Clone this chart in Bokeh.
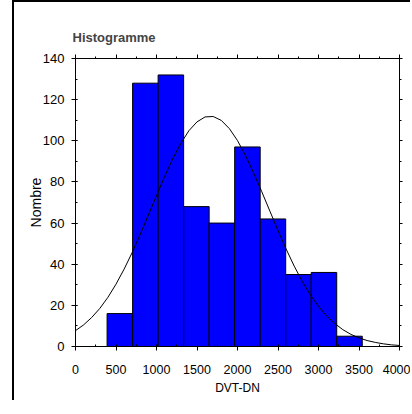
from bokeh.plotting import figure
from bokeh.models import (LinearAxis, Range1d, SingleIntervalTicker, ColumnDataSource,
                          CustomLabelingPolicy)
from bokeh.embed import file_html
from bokeh.resources import INLINE

# Histogram bins (DVT-DN) and counts
bin_left = [390, 705, 1020, 1335, 1650, 1965, 2280, 2595, 2910, 3225]
bin_right = [705, 1020, 1335, 1650, 1965, 2280, 2595, 2910, 3225, 3540]
counts = [16, 128, 132, 68, 60, 97, 62, 35, 36, 5]

# Fitted normal curve
curve_x = [0, 100, 200, 300, 400, 500, 600, 700, 800, 900, 1000,
           1100, 1200, 1300, 1400, 1500, 1600, 1700, 1800, 1900, 2000,
           2100, 2200, 2300, 2400, 2500, 2600, 2700, 2800, 2900, 3000,
           3100, 3200, 3300, 3400, 3500, 3600, 3700, 3800, 3900, 4000]
curve_y = [7.7, 10.5, 14.1, 18.5, 23.9, 30.3, 37.6, 45.7, 54.6, 63.9, 73.3,
           82.6, 91.2, 98.7, 104.9, 109.2, 111.6, 111.8, 109.9, 105.9, 100.1,
           92.8, 84.3, 75.2, 65.8, 56.4, 47.4, 39.1, 31.6, 25.1, 19.5,
           14.9, 11.2, 8.2, 5.9, 4.2, 2.9, 2.0, 1.3, 0.8, 0.5]

title_text = "Histogramme"
x_label = "DVT-DN"
y_label = "Nombre"

FONT = "Liberation Sans"

p = figure(width=398, height=400, output_backend="svg", toolbar_location=None,
           x_range=Range1d(0, 4000), y_range=Range1d(0, 140),
           min_border_left=61, min_border_right=13, min_border_top=56,
           min_border_bottom=56, x_axis_location=None, y_axis_location=None)
p.margin = (0, 0, 0, 12)
p.styles = {"border-left": "2px solid black", "border-top": "2px solid black"}
p.grid.visible = False
p.outline_line_color = None
p.background_fill_color = "white"
p.border_fill_color = "white"

src = ColumnDataSource(dict(left=bin_left, right=bin_right, top=counts))
p.quad(left="left", right="right", bottom=0, top="top", source=src,
       fill_color="#0000FF", line_color="black", line_width=1)
p.line(curve_x, curve_y, line_color="black", line_width=1)

no_labels = CustomLabelingPolicy(code="""
for (const i of Array.from(indices)) { indices.unset(i) }
return indices
""")


def style(ax, labels=True):
    ax.axis_line_color = "black"
    ax.major_tick_line_color = "black"
    ax.minor_tick_line_color = "black"
    ax.major_label_text_font = FONT
    ax.major_label_text_font_size = "13px" if labels else "1px"
    ax.major_label_text_color = "black"
    ax.axis_label_text_font = FONT
    ax.axis_label_text_font_style = "normal"
    ax.axis_label_text_color = "black"
    if not labels:
        ax.major_label_policy = no_labels


xb = LinearAxis(ticker=SingleIntervalTicker(interval=500, num_minor_ticks=2),
                axis_label=x_label)
style(xb)
xb.major_label_text_font_size = "12.5px"
xb.axis_label_text_font_size = "12px"
xb.major_tick_out = 4
xb.major_tick_in = 0
xb.minor_tick_out = 0
xb.minor_tick_in = 2
xb.major_label_standoff = 14
xb.axis_label_standoff = 4
p.add_layout(xb, "below")

yl = LinearAxis(ticker=SingleIntervalTicker(interval=20, num_minor_ticks=2),
                axis_label=y_label)
style(yl)
yl.axis_label_text_font_size = "14px"
yl.major_tick_out = 4
yl.major_tick_in = 2
yl.minor_tick_out = 0
yl.minor_tick_in = 2
yl.major_label_standoff = 7
yl.axis_label_standoff = -4
p.add_layout(yl, "left")

xt = LinearAxis(ticker=SingleIntervalTicker(interval=500, num_minor_ticks=2))
style(xt, labels=False)
xt.major_tick_out = 4
xt.major_tick_in = 0
xt.minor_tick_out = 2
xt.minor_tick_in = 0
xt.major_label_standoff = 0
p.add_layout(xt, "above")

yr = LinearAxis(ticker=SingleIntervalTicker(interval=20, num_minor_ticks=2))
style(yr, labels=False)
yr.major_tick_out = 3
yr.major_tick_in = 0
yr.minor_tick_out = 2
yr.minor_tick_in = 0
yr.major_label_standoff = 0
p.add_layout(yr, "right")

p.title.text = title_text
p.title.align = "left"
p.title.offset = -3
p.title.text_font = FONT
p.title.text_font_style = "bold"
p.title.text_font_size = "13px"
p.title.standoff = 12

open("out.html", "w").write(file_html(p, INLINE))
